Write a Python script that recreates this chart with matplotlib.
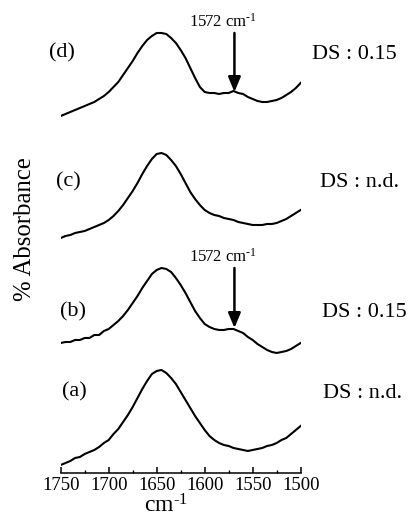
import matplotlib
matplotlib.use('Agg')
import matplotlib.pyplot as plt
from matplotlib.ticker import MultipleLocator

plt.rcParams['font.family'] = ['Liberation Serif', 'DejaVu Serif']
plt.rcParams['mathtext.fontset'] = 'custom'
plt.rcParams['mathtext.rm'] = 'Liberation Serif'
plt.rcParams['mathtext.it'] = 'Liberation Serif'

# wavenumber grid (cm-1), 1750 -> 1500
wavenumber = [1750, 1745, 1740, 1735, 1730, 1725, 1720, 1715, 1710, 1705,
              1700, 1695, 1690, 1685, 1680, 1675, 1670, 1665, 1660, 1655,
              1650, 1645, 1640, 1635, 1630, 1625, 1620, 1615, 1610, 1605,
              1600, 1595, 1590, 1585, 1580, 1575, 1570, 1565, 1560, 1555,
              1550, 1545, 1540, 1535, 1530, 1525, 1520, 1515, 1510, 1505,
              1500]

# stacked absorbance traces (a.u.)
spec_a = [0.08, 0.10, 0.12, 0.15, 0.16, 0.19, 0.21, 0.23, 0.26, 0.30,
          0.33, 0.39, 0.44, 0.51, 0.58, 0.66, 0.75, 0.84, 0.92, 0.99,
          1.02, 1.03, 1.00, 0.95, 0.89, 0.81, 0.73, 0.65, 0.57, 0.50,
          0.43, 0.37, 0.33, 0.30, 0.28, 0.27, 0.25, 0.24, 0.23, 0.22,
          0.23, 0.24, 0.25, 0.27, 0.28, 0.30, 0.33, 0.35, 0.39, 0.43,
          0.47]
spec_b = [1.30, 1.31, 1.31, 1.33, 1.33, 1.35, 1.35, 1.38, 1.38, 1.42,
          1.44, 1.48, 1.52, 1.57, 1.63, 1.70, 1.77, 1.85, 1.92, 1.99,
          2.03, 2.05, 2.04, 2.01, 1.95, 1.88, 1.80, 1.71, 1.62, 1.55,
          1.49, 1.46, 1.44, 1.43, 1.43, 1.44, 1.44, 1.42, 1.40, 1.36,
          1.33, 1.29, 1.26, 1.23, 1.21, 1.20, 1.21, 1.22, 1.24, 1.27,
          1.30]
spec_c = [2.35, 2.37, 2.38, 2.40, 2.41, 2.42, 2.44, 2.46, 2.48, 2.50,
          2.53, 2.57, 2.62, 2.68, 2.75, 2.82, 2.90, 2.99, 3.07, 3.14,
          3.19, 3.20, 3.18, 3.13, 3.07, 2.99, 2.90, 2.81, 2.74, 2.68,
          2.63, 2.60, 2.58, 2.57, 2.55, 2.54, 2.53, 2.51, 2.50, 2.49,
          2.48, 2.48, 2.48, 2.49, 2.49, 2.50, 2.52, 2.54, 2.57, 2.60,
          2.63]
spec_d = [3.57, 3.59, 3.61, 3.63, 3.65, 3.67, 3.69, 3.71, 3.74, 3.77,
          3.81, 3.86, 3.91, 3.98, 4.05, 4.12, 4.20, 4.27, 4.33, 4.37,
          4.40, 4.40, 4.39, 4.35, 4.30, 4.23, 4.15, 4.05, 3.95, 3.86,
          3.81, 3.80, 3.80, 3.79, 3.80, 3.80, 3.82, 3.80, 3.79, 3.76,
          3.74, 3.72, 3.71, 3.71, 3.72, 3.73, 3.75, 3.78, 3.81, 3.85,
          3.90]

panel_labels = ['(a)', '(b)', '(c)', '(d)']
ds_labels = ['DS : n.d.', 'DS : 0.15', 'DS : n.d.', 'DS : 0.15']
band_pos = 1569  # where the arrows point (marked 1572 cm-1)
unit = r'cm$^{\mathrm{\text{-}1}}$'

fig = plt.figure(figsize=(4.13, 5.18), dpi=100)
ax = fig.add_axes([0.147, 0.0869, 0.581, 0.8745])

for spec in [spec_a, spec_b, spec_c, spec_d]:
    ax.plot(wavenumber, spec, color='black', lw=1.5)

ax.set_xlim(1750, 1500)
ax.set_ylim(0, 4.53)

# panel letters and DS values (figure fractions)
letter_pos = [(0.179, 0.243), (0.177, 0.398), (0.165, 0.649), (0.150, 0.898)]
ds_pos = [(0.782, 0.241), (0.779, 0.396), (0.775, 0.647), (0.755, 0.894)]
for lab, ds, lp, dp in zip(panel_labels, ds_labels, letter_pos, ds_pos):
    fig.text(lp[0], lp[1], lab, fontsize=16, ha='center', va='center')
    fig.text(dp[0], dp[1], ds, fontsize=16, ha='left', va='center')

# arrows at the 1572 cm-1 band
for tail, tip, ly in [(4.40, 3.81, 4.42), (2.05, 1.45, 2.07)]:
    ax.annotate('', xy=(band_pos, tip), xytext=(band_pos, tail),
                arrowprops=dict(arrowstyle='-|>,head_length=0.6,head_width=0.25',
                                mutation_scale=15, lw=1.8, color='black',
                                shrinkA=0, shrinkB=0))
    ax.text(1581, ly, '1572 ' + unit, fontsize=12, ha='center', va='bottom')

for side in ['left', 'right', 'top']:
    ax.spines[side].set_visible(False)
ax.spines['bottom'].set_linewidth(1.1)
ax.set_yticks([])
ax.xaxis.set_major_locator(MultipleLocator(50))
ax.xaxis.set_minor_locator(MultipleLocator(25))
ax.tick_params(axis='x', which='major', direction='in', length=4, width=1.1,
               labelsize=13.5, pad=3)
ax.tick_params(axis='x', which='minor', direction='in', length=2.5, width=1.0)

ax.set_xlabel(unit, fontsize=17, labelpad=0, x=0.44)
fig.text(0.060, 0.558, '% Absorbance', rotation=90, fontsize=17.8,
         ha='center', va='center')

plt.savefig('out.png', dpi=100)
plt.close(fig)
